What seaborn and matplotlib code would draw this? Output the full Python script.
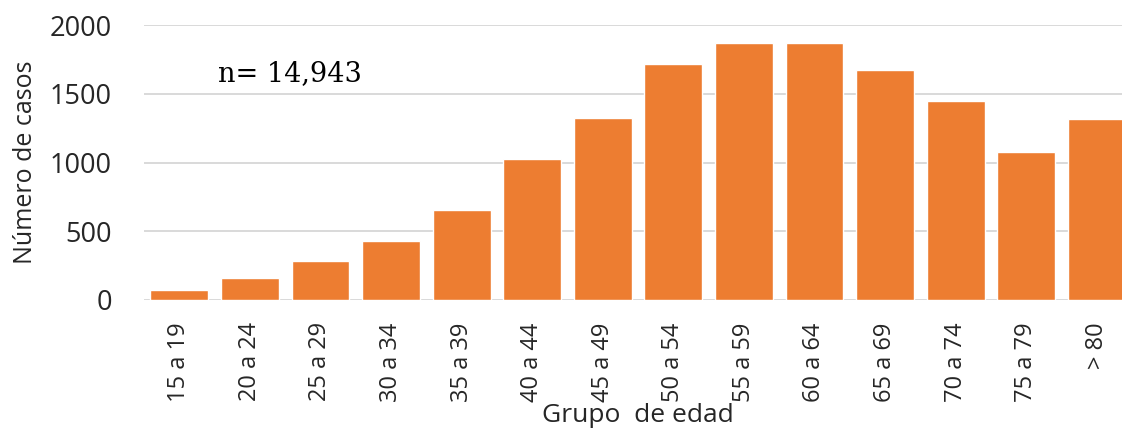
import matplotlib
matplotlib.use("Agg")
import matplotlib.pyplot as plt
import seaborn as sns
import pandas as pd

categories = ["15 a 19", "20 a 24", "25 a 29", "30 a 34", "35 a 39", "40 a 44", "45 a 49",
              "50 a 54", "55 a 59", "60 a 64", "65 a 69", "70 a 74", "75 a 79", "> 80"]
casos = [73, 162, 281, 431, 655, 1028, 1326, 1716, 1867, 1867, 1670, 1447, 1074, 1314]
yticks = [0, 500, 1000, 1500, 2000]
annotation = "n= 14,943"

sns.set_theme(style="white")
plt.rcParams['font.family'] = ['Open Sans', 'DejaVu Sans']

df = pd.DataFrame({"grupo": categories, "casos": casos})

fig = plt.figure(figsize=(11.22, 4.33), dpi=100)
ax = fig.add_axes([144/1122, 1 - 300/433, 1 - 144/1122, 275/433])

sns.barplot(data=df, x="grupo", y="casos", color="#ED7D31", saturation=1,
            width=0.82, ax=ax, zorder=3)

ax.set_ylim(0, 2000)
ax.set_xlim(-0.5, (1122 - 179) / 70.6)
ax.set_yticks(yticks)
ax.yaxis.grid(True, color="#D9D9D9", linewidth=1.4, zorder=0)
ax.set_axisbelow(True)
for s in ax.spines.values():
    s.set_visible(False)

ax.tick_params(axis="y", length=0, pad=23, labelsize=19.5, labelcolor="#262626")
ax.tick_params(axis="x", length=0, pad=16, labelsize=17, labelcolor="#262626", rotation=90)

ax.set_xlabel("Grupo  de edad", fontsize=19, color="#262626")
ax.xaxis.set_label_coords(0.505, -0.375)
ax.set_ylabel("Número de casos", fontsize=18, color="#262626")
ax.yaxis.set_label_coords(-0.108, 0.5)

ax.text(0.076, 0.825, annotation, transform=ax.transAxes, family="DejaVu Serif",
        fontsize=19.5, color="#000000", ha="left", va="center")

fig.savefig("out.png", dpi=100)
